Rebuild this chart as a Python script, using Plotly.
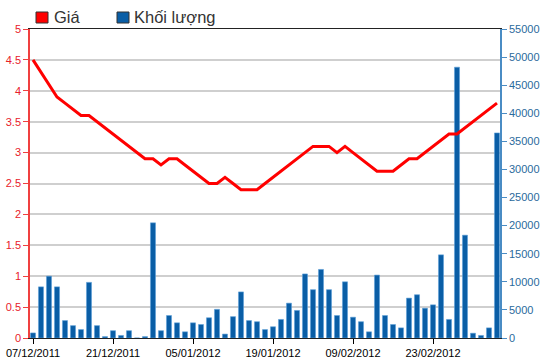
import plotly.graph_objects as go

dates = ["07/12/2011","08/12/2011","09/12/2011","12/12/2011","13/12/2011","14/12/2011","15/12/2011","16/12/2011",
         "19/12/2011","20/12/2011","21/12/2011","22/12/2011","23/12/2011","26/12/2011","27/12/2011","28/12/2011",
         "29/12/2011","30/12/2011","03/01/2012","04/01/2012","05/01/2012","06/01/2012","09/01/2012","10/01/2012",
         "11/01/2012","12/01/2012","13/01/2012","16/01/2012","17/01/2012","18/01/2012","19/01/2012","20/01/2012",
         "30/01/2012","31/01/2012","01/02/2012","02/02/2012","03/02/2012","06/02/2012","07/02/2012","08/02/2012",
         "09/02/2012","10/02/2012","13/02/2012","14/02/2012","15/02/2012","16/02/2012","17/02/2012","20/02/2012",
         "21/02/2012","22/02/2012","23/02/2012","24/02/2012","27/02/2012","28/02/2012","29/02/2012","01/03/2012",
         "02/03/2012","05/03/2012","06/03/2012"]

price = [4.5, 4.3, 4.1, 3.9, 3.8, 3.7, 3.6, 3.6, 3.5, 3.4, 3.3, 3.2, 3.1, 3.0, 2.9, 2.9, 2.8, 2.9, 2.9, 2.8,
         2.7, 2.6, 2.5, 2.5, 2.6, 2.5, 2.4, 2.4, 2.4, 2.5, 2.6, 2.7, 2.8, 2.9, 3.0, 3.1, 3.1, 3.1, 3.0, 3.1,
         3.0, 2.9, 2.8, 2.7, 2.7, 2.7, 2.8, 2.9, 2.9, 3.0, 3.1, 3.2, 3.3, 3.3, 3.4, 3.5, 3.6, 3.7, 3.8]

volume = [900, 9100, 11000, 9100, 3100, 2200, 1500, 9900, 2200, 250, 1300, 450, 1300, 0, 250, 20500, 1300, 4000,
          2700, 1100, 2700, 2400, 3600, 5100, 700, 3800, 8200, 3100, 2900, 1500, 2000, 3300, 6200, 4900, 11400,
          8600, 12200, 8600, 4000, 10000, 3700, 2900, 1100, 11200, 4000, 2400, 1800, 7100, 7700, 5300, 5900,
          14800, 3300, 48200, 18300, 850, 450, 1800, 36500]

tick_labels = ["07/12/2011", "21/12/2011", "05/01/2012", "19/01/2012", "09/02/2012", "23/02/2012"]

RED = "#ff0000"
BLUE = "#0a5ea6"
AXBLUE = "#4a8cc4"
FONT = "Liberation Sans, Arial, sans-serif"

fig = go.Figure()
fig.add_trace(go.Bar(x=dates, y=volume, name="Khối lượng", yaxis="y",
                     marker=dict(color=BLUE, line=dict(color="#5d9fd8", width=0.6)),
                     showlegend=False))
fig.add_trace(go.Scatter(x=dates, y=price, name="Giá", yaxis="y2", mode="lines",
                         line=dict(color=RED, width=3), showlegend=False))

fig.update_layout(
    width=550, height=364,
    margin=dict(l=30, r=50, t=29, b=26, autoexpand=False),
    paper_bgcolor="white", plot_bgcolor="white",
    font=dict(family=FONT, size=11, color="black"),
    bargap=0.37,
    xaxis=dict(type="category", range=[-0.375, 58.375], tickmode="array",
               tickvals=tick_labels, ticktext=tick_labels, automargin=False,
               ticks="outside", ticklen=5, tickcolor="black",
               showline=True, linecolor="#222222", linewidth=1, mirror=True,
               showgrid=False, tickfont=dict(size=11, color="black", family=FONT)),
    yaxis=dict(side="right", range=[0, 55000], dtick=5000, showgrid=False, automargin=False,
               tickformat="d",
               showline=True, linecolor=AXBLUE, linewidth=1.5,
               ticks="outside", ticklen=5, tickcolor=AXBLUE,
               tickfont=dict(size=11, color="#2a6a9c", family=FONT), zeroline=False),
    yaxis2=dict(side="left", overlaying="y", range=[0, 5], dtick=0.5, automargin=False,
                showgrid=True, gridcolor="#cfcfcf", gridwidth=1.5,
                showline=True, linecolor="#f04040", linewidth=1.5,
                ticks="outside", ticklen=5, tickcolor="#f04040",
                tickfont=dict(size=11, color="#e8202a", family=FONT), zeroline=False),
)

# legend drawn manually
fig.add_shape(type="rect", xref="paper", yref="paper",
              x0=(36 - 30) / 470, x1=(48 - 30) / 470, y0=(364 - 26 - 23) / 309, y1=(364 - 26 - 12) / 309,
              fillcolor=RED, line=dict(color="#333333", width=1))
fig.add_shape(type="rect", xref="paper", yref="paper",
              x0=(117 - 30) / 470, x1=(129 - 30) / 470, y0=(364 - 26 - 23) / 309, y1=(364 - 26 - 12) / 309,
              fillcolor=BLUE, line=dict(color="#333333", width=1))
fig.add_annotation(text="Giá", xref="paper", yref="paper", x=(52 - 30) / 470, y=(364 - 26 - 17.5) / 309,
                   xanchor="left", yanchor="middle", showarrow=False,
                   font=dict(size=16.5, color="#333333", family=FONT))
fig.add_annotation(text="Khối lượng", xref="paper", yref="paper", x=(132 - 30) / 470, y=(364 - 26 - 17.5) / 309,
                   xanchor="left", yanchor="middle", showarrow=False,
                   font=dict(size=16.5, color="#333333", family=FONT))

fig.write_html("out.html", config={"displayModeBar": False},
               post_script="document.body.style.margin='0';document.body.style.overflow='hidden';")
